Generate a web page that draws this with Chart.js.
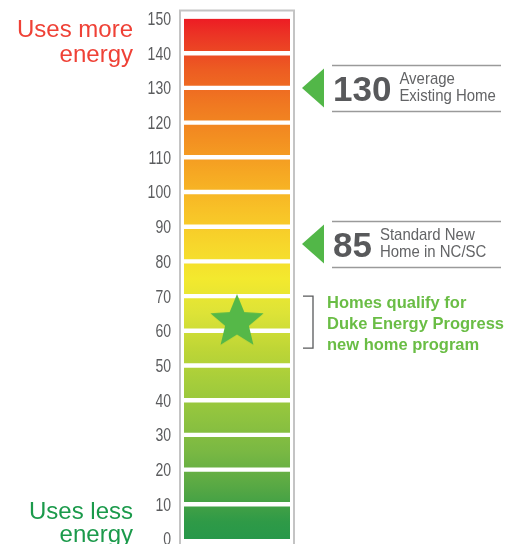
<!DOCTYPE html>
<html lang="en">
<head>
    <meta charset="UTF-8">
    <title>Energy Scale</title>
    <style>
        body {
            margin: 0;
            background-color: #ffffff;
            overflow: hidden;
        }
        #wrap {
            width: 516px;
            height: 544px;
        }
    </style>
</head>
<body>
    <div id="wrap"><canvas id="scale-chart"></canvas></div>

    <script src="https://cdn.jsdelivr.net/npm/chart.js"></script>
    <script>
        // Escala de 0 a 150, em faixas de 10
        const tickValues = [0, 10, 20, 30, 40, 50, 60, 70, 80, 90, 100, 110, 120, 130, 140, 150];
        const segmentSizes = [10, 10, 10, 10, 10, 10, 10, 10, 10, 10, 10, 10, 10, 10, 10];
        const segmentColors = ['#2f9a47', '#57a844', '#79b843', '#8fc33f', '#a5cd3b', '#bfd636', '#dde337',
            '#f3e92e', '#f7d62b', '#f8c127', '#f6a923', '#f39021', '#f07921', '#ed5d22', '#eb3525'];

        // Marcadores
        const markerValues = [130, 85];
        const markerNumbers = ['130', '85'];
        const markerTexts = [['Average', 'Existing Home'], ['Standard New', 'Home in NC/SC']];
        const starValue = 62.5;
        const qualifyRange = [55, 70];
        const qualifyText = ['Homes qualify for', 'Duke Energy Progress', 'new home program'];
        const topLabel = ['Uses more', 'energy'];
        const bottomLabel = ['Uses less', 'energy'];

        const sans = "'Liberation Sans', Arial, sans-serif";

        // estrela verde usada como pointStyle
        const starImg = document.createElement('canvas');
        starImg.width = 58;
        starImg.height = 58;
        (function () {
            const c = starImg.getContext('2d');
            const R = 28, r = 12.5;
            c.beginPath();
            for (let i = 0; i < 10; i++) {
                const rad = i % 2 === 0 ? R : r;
                const a = -Math.PI / 2 + i * Math.PI / 5;
                const px = 29 + rad * Math.cos(a), py = 29 + rad * Math.sin(a);
                if (i === 0) c.moveTo(px, py); else c.lineTo(px, py);
            }
            c.closePath();
            c.fillStyle = '#55b848';
            c.fill();
        })();

        function barGradient(ctx) {
            const chart = ctx.chart;
            if (!chart.chartArea) return segmentColors[0];
            const y = chart.scales.y;
            const g = chart.ctx.createLinearGradient(0, y.getPixelForValue(0), 0, y.getPixelForValue(150));
            g.addColorStop(0, '#27984a');
            let acc = 0;
            segmentSizes.forEach((s, i) => {
                g.addColorStop((acc + s / 2) / 150, segmentColors[i]);
                acc += s;
            });
            g.addColorStop(1, '#ed1c24');
            return g;
        }

        const datasets = [{
            type: 'line',
            label: 'star',
            data: [starValue],
            stack: 'star',
            showLine: false,
            pointStyle: starImg,
            order: 0
        }];
        segmentSizes.forEach((s, i) => {
            const last = segmentSizes.length - 1;
            datasets.push({
                type: 'bar',
                label: 'seg' + i,
                data: [s],
                stack: 'scale',
                backgroundColor: barGradient,
                borderColor: '#ffffff',
                borderWidth: { top: i === last ? 0 : 2.2, bottom: i === 0 ? 0 : 2.2, left: 0, right: 0 },
                borderSkipped: false,
                categoryPercentage: 1,
                barPercentage: 0.914,
                order: 1
            });
        });

        // texto condensado (escala horizontal)
        function narrowText(ctx, text, x, y, sx) {
            ctx.save();
            ctx.translate(x, y);
            ctx.scale(sx, 1);
            ctx.fillText(text, 0, 0);
            ctx.restore();
        }

        const annotations = {
            id: 'annotations',
            beforeDatasetsDraw(chart) {
                const ctx = chart.ctx;
                const a = chart.chartArea;
                ctx.save();
                ctx.strokeStyle = '#c4c4c4';
                ctx.lineWidth = 2;
                ctx.strokeRect(a.left + 1, 10.5, a.right - a.left - 2, 560);
                ctx.restore();
            },
            afterDraw(chart) {
                const ctx = chart.ctx;
                const a = chart.chartArea;
                const ys = chart.scales.y;
                ctx.save();

                // rótulos do eixo
                ctx.font = '18px ' + sans;
                ctx.fillStyle = '#5b5c5e';
                ctx.textAlign = 'right';
                ctx.textBaseline = 'middle';
                ys.ticks.forEach((t, i) => {
                    narrowText(ctx, String(t.value), a.left - 8, ys.getPixelForTick(i) + 1.5, 0.78);
                });

                // rótulos da esquerda
                ctx.textAlign = 'right';
                ctx.textBaseline = 'alphabetic';
                ctx.font = '24px ' + sans;
                ctx.fillStyle = '#ef4136';
                ctx.fillText(topLabel[0], 133, 36.5);
                ctx.fillText(topLabel[1], 133, 61.5);
                ctx.fillStyle = '#1b9a4b';
                ctx.fillText(bottomLabel[0], 133, 519);
                ctx.fillText(bottomLabel[1], 133, 542);

                // marcadores com seta
                markerValues.forEach((v, i) => {
                    const y = ys.getPixelForValue(v);
                    const x0 = a.right + 7;
                    ctx.fillStyle = '#52b748';
                    ctx.beginPath();
                    ctx.moveTo(x0, y);
                    ctx.lineTo(x0 + 22, y - 19.5);
                    ctx.lineTo(x0 + 22, y + 19.5);
                    ctx.closePath();
                    ctx.fill();

                    ctx.strokeStyle = '#9a9a9a';
                    ctx.lineWidth = 1.5;
                    ctx.beginPath();
                    ctx.moveTo(332, y - 22.5);
                    ctx.lineTo(501, y - 22.5);
                    ctx.moveTo(332, y + 23.5);
                    ctx.lineTo(501, y + 23.5);
                    ctx.stroke();

                    ctx.textAlign = 'left';
                    ctx.textBaseline = 'alphabetic';
                    ctx.font = 'bold 35px ' + sans;
                    ctx.fillStyle = '#58595b';
                    ctx.fillText(markerNumbers[i], 333, y + 13);
                    const w = ctx.measureText(markerNumbers[i]).width;
                    ctx.font = '17px ' + sans;
                    ctx.fillStyle = '#636466';
                    ctx.textBaseline = 'middle';
                    narrowText(ctx, markerTexts[i][0], 333 + w + 8, y - 8.5, 0.88);
                    narrowText(ctx, markerTexts[i][1], 333 + w + 8, y + 8.5, 0.88);
                });

                // colchete da faixa qualificada
                const yt = ys.getPixelForValue(qualifyRange[1]);
                const yb = ys.getPixelForValue(qualifyRange[0]);
                ctx.strokeStyle = '#58595b';
                ctx.lineWidth = 1.3;
                ctx.beginPath();
                ctx.moveTo(a.right + 8, yt);
                ctx.lineTo(a.right + 18, yt);
                ctx.lineTo(a.right + 18, yb);
                ctx.lineTo(a.right + 8, yb);
                ctx.stroke();

                const yc = (yt + yb) / 2 + 2;
                ctx.font = 'bold 16.5px ' + sans;
                ctx.fillStyle = '#6abd45';
                ctx.textAlign = 'left';
                ctx.textBaseline = 'middle';
                qualifyText.forEach((t, i) => {
                    ctx.fillText(t, 327, yc + (i - 1) * 21);
                });
                ctx.restore();
            }
        };

        new Chart(document.getElementById('scale-chart'), {
            data: { labels: ['energy'], datasets: datasets },
            options: {
                responsive: true,
                maintainAspectRatio: false,
                animation: false,
                layout: { padding: { left: 0, right: 221, top: 18.5, bottom: 3.5 } },
                plugins: { legend: { display: false }, tooltip: { enabled: false } },
                scales: {
                    x: { display: false, stacked: true },
                    y: {
                        stacked: true,
                        min: 0,
                        max: 150,
                        afterBuildTicks(scale) {
                            scale.ticks = tickValues.map(v => ({ value: v }));
                        },
                        afterFit(scale) {
                            scale.width = 179;
                            scale.paddingTop = 0;
                            scale.paddingBottom = 0;
                        },
                        grid: { display: false, drawTicks: false },
                        border: { display: false },
                        ticks: { display: false }
                    }
                }
            },
            plugins: [annotations]
        });
    </script>
</body>
</html>
